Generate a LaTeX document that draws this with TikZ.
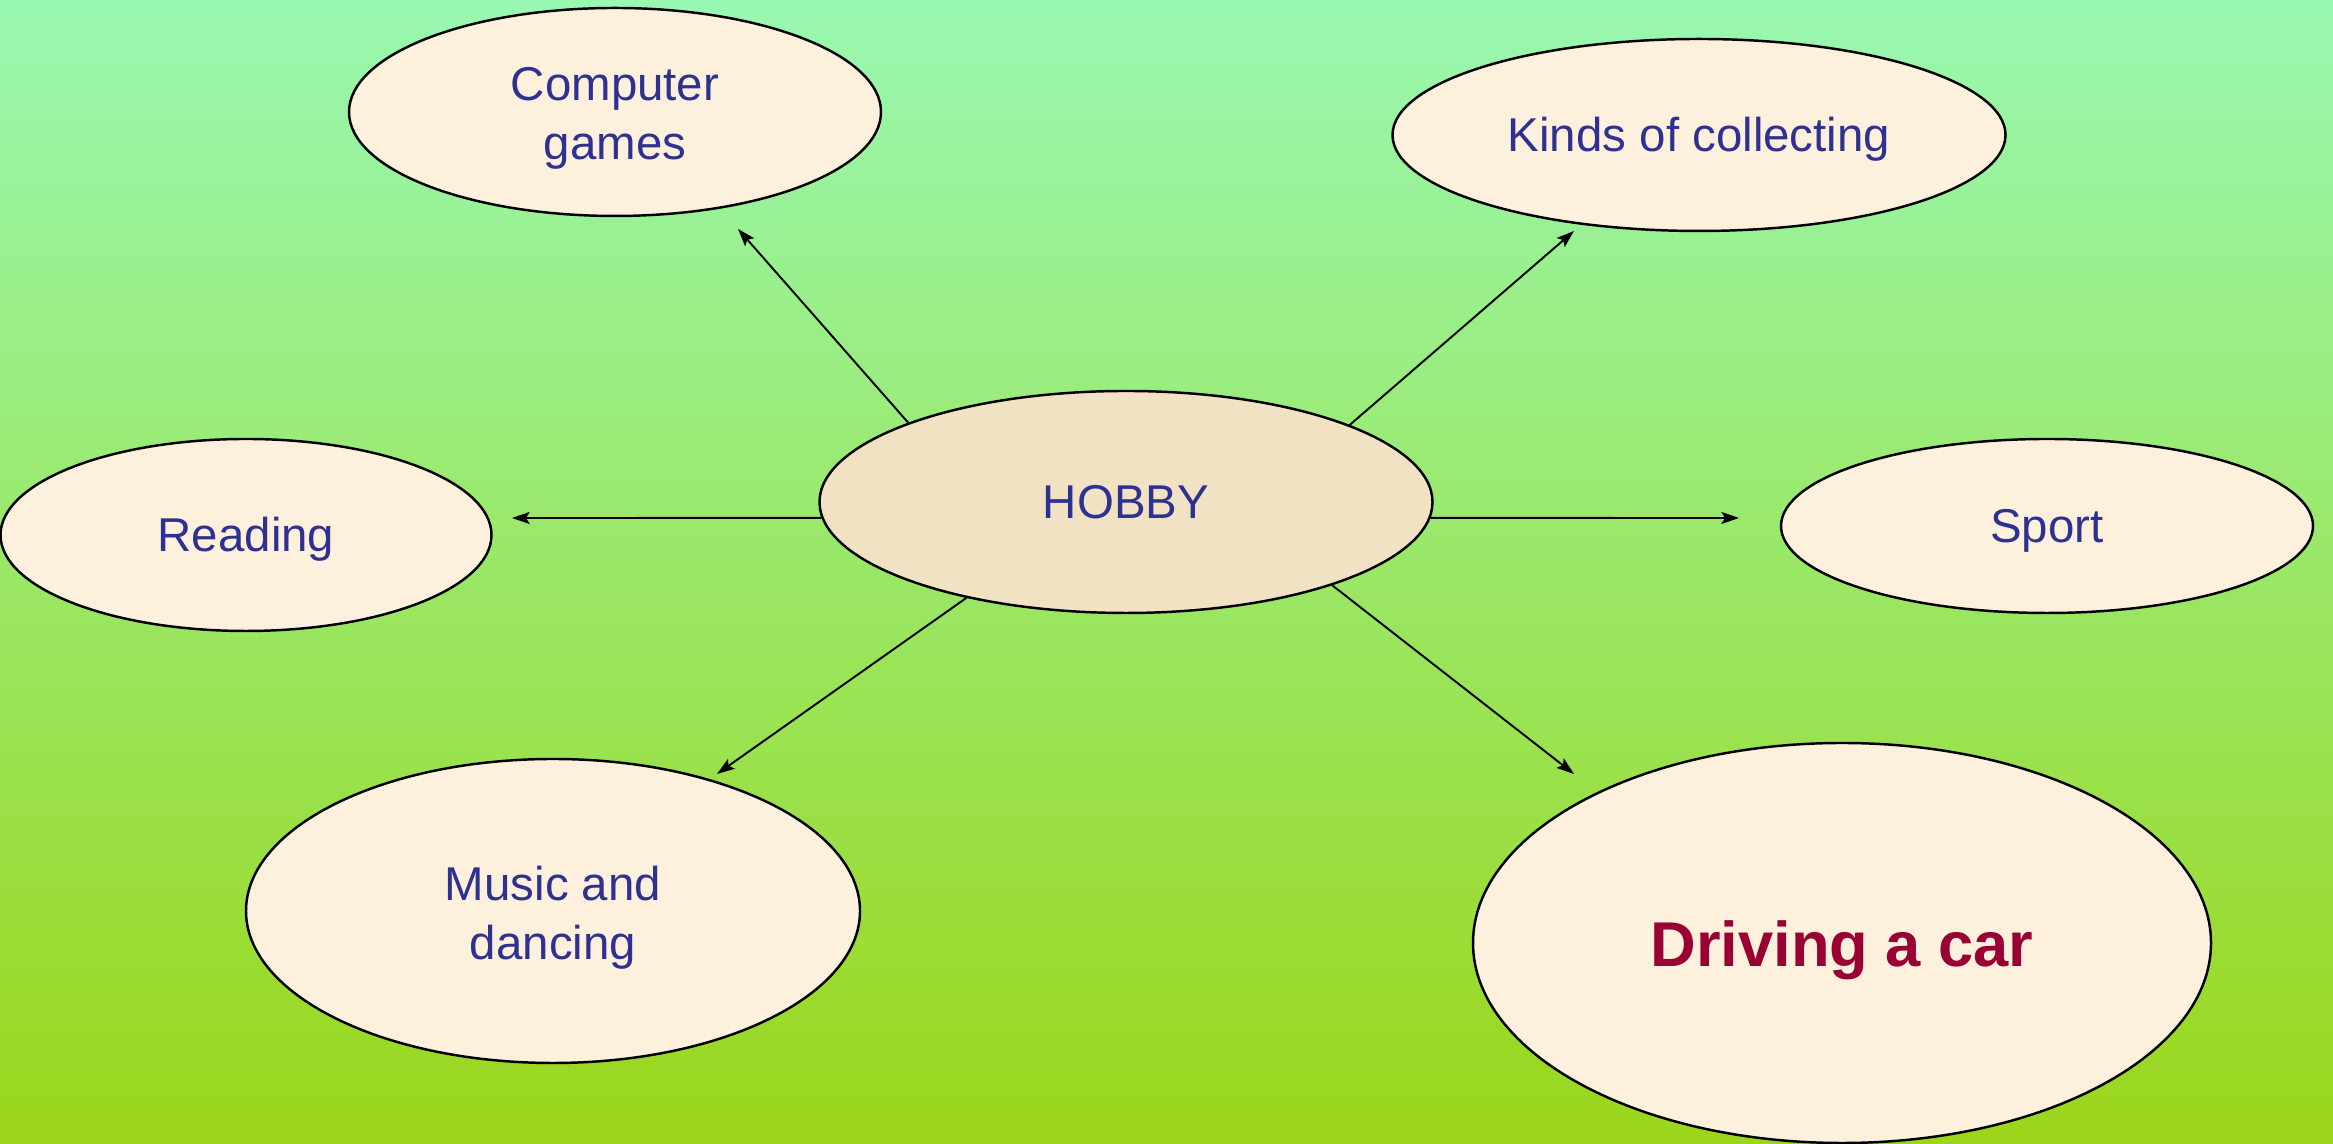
\documentclass[tikz,border=0pt]{standalone}
\usepackage{fontspec}
\setmainfont{Liberation Sans}
\usepackage{tikz}
\usetikzlibrary{positioning,calc,shapes.geometric,arrows.meta}
\usepackage{xcolor}

\definecolor{skytop}{RGB}{153,248,178}
\definecolor{grassbottom}{RGB}{155,214,26}
\definecolor{paper}{RGB}{253,240,220}
\definecolor{paperdark}{RGB}{242,226,196}
\definecolor{inkblue}{RGB}{46,49,146}
\definecolor{inkred}{RGB}{153,0,51}

\tikzset{
  bubble/.style={ellipse, draw=black, line width=0.7pt, fill=paper,
    inner sep=0pt, align=center, text=inkblue,
    text height=12pt, text depth=2.4pt,
    font=\fontsize{13.5}{16.8}\selectfont},
  arr/.style={line width=0.55pt, -{Stealth[length=5pt,width=3.4pt,inset=1pt]}}
}

\begin{document}
\begin{tikzpicture}
    \useasboundingbox (0cm, 0cm) rectangle (23.33cm, 11.44cm);
    \shade[top color=skytop, bottom color=grassbottom] (0cm, 0cm) rectangle (23.33cm, 11.44cm);

      % Centre
      \node[bubble, fill=paperdark, minimum width=6.13cm, minimum height=2.22cm] (hobby) at (11.26cm, 6.42cm) {HOBBY};

      % Kinds of hobby
      \node[bubble, minimum width=5.32cm, minimum height=2.08cm,
        text height=26.8pt, text depth=0pt] (games) at (6.15cm, 10.32cm) {Computer\\games};
      \node[bubble, minimum width=6.13cm, minimum height=1.92cm] (collect) at (16.99cm, 10.09cm) {Kinds of collecting};
      \node[bubble, minimum width=4.91cm, minimum height=1.92cm] (read) at (2.46cm, 6.09cm) {Reading};
      \node[bubble, minimum width=5.32cm, minimum height=1.74cm] (sport) at (20.47cm, 6.18cm) {Sport};
      \node[bubble, minimum width=6.14cm, minimum height=3.04cm,
        text height=27.4pt, text depth=0pt] (music) at (5.53cm, 2.33cm) {Music and\\dancing};
      \node[bubble, minimum width=7.38cm, minimum height=4.00cm, text=inkred,
        text height=16pt, text depth=2.5pt,
        font=\fontsize{18}{21}\selectfont\bfseries] (drive) at (18.42cm, 2.01cm) {Driving a car};

      % Arrow tips
      \coordinate (gamestip) at (7.38cm, 9.15cm);
      \coordinate (collecttip) at (15.74cm, 9.13cm);
      \coordinate (readtip) at (5.12cm, 6.26cm);
      \coordinate (sporttip) at (17.39cm, 6.26cm);
      \coordinate (musictip) at (7.17cm, 3.70cm);
      \coordinate (drivetip) at (15.74cm, 3.70cm);

      % Arrows
      \draw[arr] (hobby.160) -- (gamestip);
      \draw[arr] (hobby.19.5) -- (collecttip);
      \draw[arr] (hobby.183) -- (readtip);
      \draw[arr] (hobby.-3) -- (sporttip);
      \draw[arr] (hobby.211) -- (musictip);
      \draw[arr] (hobby.338) -- (drivetip);
  \end{tikzpicture}
\end{document}
